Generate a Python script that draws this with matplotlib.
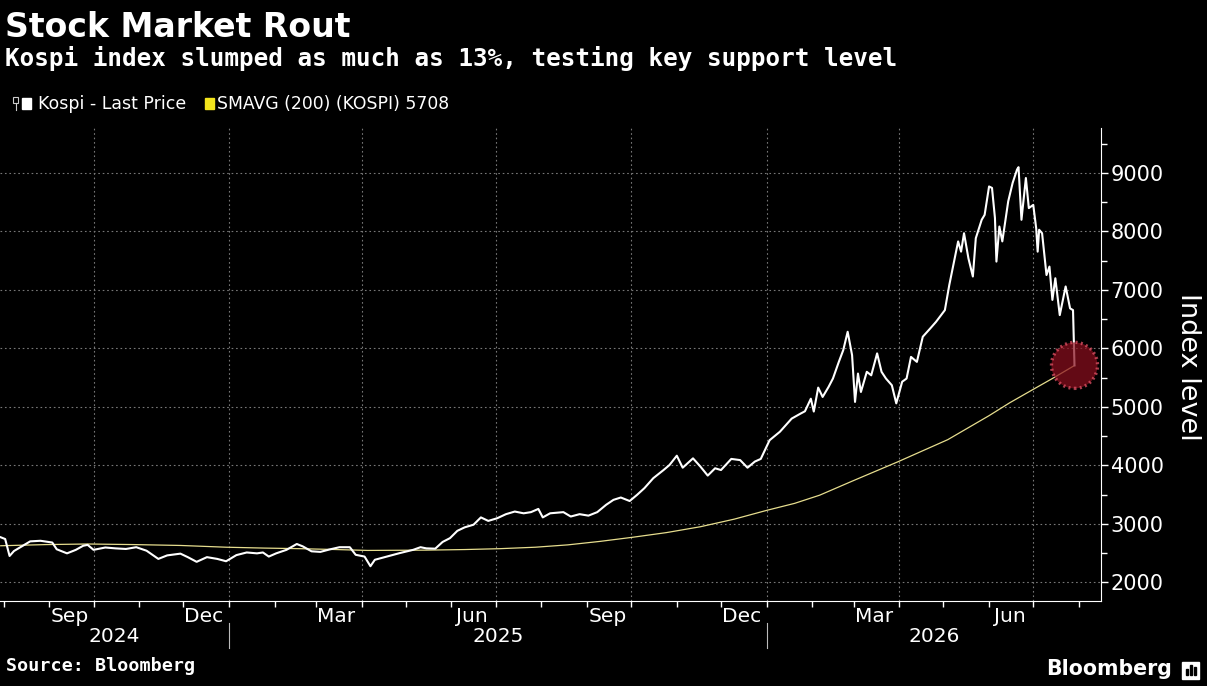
import matplotlib.pyplot as plt
import matplotlib.dates as mdates
from matplotlib.ticker import MultipleLocator
from matplotlib.patches import Rectangle
from matplotlib.lines import Line2D
import pandas as pd

# Kospi daily close
kospi_dates = [
    "2024-07-30", "2024-08-02", "2024-08-05", "2024-08-08", "2024-08-12", "2024-08-19",
    "2024-08-26", "2024-09-03", "2024-09-06", "2024-09-13", "2024-09-19", "2024-09-24",
    "2024-09-27", "2024-10-01", "2024-10-09", "2024-10-16", "2024-10-23", "2024-10-30",
    "2024-11-06", "2024-11-14", "2024-11-20", "2024-11-29", "2024-12-04", "2024-12-10",
    "2024-12-17", "2024-12-24", "2024-12-30", "2025-01-06", "2025-01-13", "2025-01-20",
    "2025-01-24", "2025-01-28", "2025-02-02", "2025-02-09", "2025-02-16", "2025-02-20",
    "2025-02-26", "2025-03-04", "2025-03-10", "2025-03-17", "2025-03-24", "2025-03-28",
    "2025-04-03", "2025-04-07", "2025-04-10", "2025-04-18", "2025-04-27", "2025-05-06",
    "2025-05-11", "2025-05-15", "2025-05-21", "2025-05-26", "2025-05-31", "2025-06-05",
    "2025-06-10", "2025-06-16", "2025-06-21", "2025-06-26", "2025-07-02", "2025-07-08",
    "2025-07-14", "2025-07-20", "2025-07-25", "2025-07-30", "2025-08-02", "2025-08-07",
    "2025-08-16", "2025-08-21", "2025-08-27", "2025-09-02", "2025-09-08", "2025-09-14",
    "2025-09-19", "2025-09-24", "2025-09-30", "2025-10-05", "2025-10-10", "2025-10-16",
    "2025-10-23", "2025-10-27", "2025-11-01", "2025-11-05", "2025-11-12", "2025-11-17",
    "2025-11-22", "2025-11-27", "2025-12-01", "2025-12-08", "2025-12-14", "2025-12-19",
    "2025-12-24", "2025-12-28", "2026-01-03", "2026-01-10", "2026-01-18", "2026-01-24",
    "2026-01-27", "2026-01-31", "2026-02-02", "2026-02-05", "2026-02-08", "2026-02-12",
    "2026-02-15", "2026-02-19", "2026-02-22", "2026-02-25", "2026-02-28", "2026-03-02",
    "2026-03-04", "2026-03-06", "2026-03-10", "2026-03-13", "2026-03-17", "2026-03-20",
    "2026-03-23", "2026-03-27", "2026-03-30", "2026-04-03", "2026-04-06", "2026-04-09",
    "2026-04-13", "2026-04-17", "2026-04-22", "2026-04-26", "2026-05-02", "2026-05-05",
    "2026-05-08", "2026-05-11", "2026-05-13", "2026-05-15", "2026-05-18", "2026-05-21",
    "2026-05-23", "2026-05-27", "2026-05-29", "2026-06-01", "2026-06-03", "2026-06-05",
    "2026-06-06", "2026-06-08", "2026-06-10", "2026-06-14", "2026-06-17", "2026-06-20",
    "2026-06-21", "2026-06-23", "2026-06-26", "2026-06-28", "2026-07-01", "2026-07-03",
    "2026-07-04", "2026-07-05", "2026-07-07", "2026-07-10", "2026-07-12", "2026-07-14",
    "2026-07-16", "2026-07-19", "2026-07-23", "2026-07-26", "2026-07-28", "2026-07-29",
]
kospi_values = [
    2770, 2740, 2450, 2535, 2595, 2700,
    2710, 2680, 2565, 2495, 2555, 2625,
    2640, 2555, 2595, 2580, 2570, 2600,
    2540, 2400, 2460, 2490, 2430, 2350,
    2430, 2400, 2360, 2465, 2510, 2495,
    2510, 2440, 2495, 2555, 2655, 2615,
    2530, 2520, 2560, 2600, 2600, 2470,
    2440, 2275, 2385, 2440, 2500, 2555,
    2600, 2580, 2575, 2690, 2755, 2880,
    2940, 2985, 3110, 3050, 3095, 3165,
    3210, 3180, 3200, 3255, 3110, 3180,
    3200, 3125, 3165, 3140, 3200, 3325,
    3410, 3450, 3390, 3495, 3610, 3780,
    3920, 4005, 4165, 3960, 4120, 3980,
    3825, 3950, 3920, 4110, 4090, 3960,
    4065, 4110, 4430, 4575, 4800, 4885,
    4925, 5140, 4920, 5330, 5170, 5340,
    5485, 5770, 5970, 6285, 5885, 5085,
    5570, 5255, 5600, 5540, 5915, 5600,
    5485, 5370, 5060, 5430, 5485, 5855,
    5770, 6200, 6340, 6455, 6655, 7085,
    7455, 7830, 7655, 7970, 7540, 7230,
    7885, 8200, 8285, 8770, 8745, 8230,
    7485, 8085, 7830, 8515, 8830, 9060,
    9100, 8200, 8915, 8400, 8455, 8055,
    7655, 8030, 7970, 7255, 7400, 6830,
    7200, 6570, 7060, 6685, 6655, 5710,
]

# 200-day simple moving average
sma_dates = [
    "2024-07-30", "2024-08-30", "2024-09-27", "2024-10-28", "2024-11-29", "2024-12-30",
    "2025-01-25", "2025-02-18", "2025-03-15", "2025-04-05", "2025-05-15", "2025-06-10",
    "2025-07-04", "2025-07-28", "2025-08-19", "2025-09-10", "2025-10-02", "2025-10-25",
    "2025-11-17", "2025-12-10", "2026-01-01", "2026-01-20", "2026-02-06", "2026-03-01",
    "2026-03-31", "2026-05-04", "2026-06-01", "2026-06-15", "2026-07-01", "2026-07-15",
    "2026-07-29",
]
sma_values = [
    2625, 2645, 2655, 2645, 2630, 2600,
    2585, 2575, 2560, 2545, 2550, 2560,
    2575, 2600, 2640, 2700, 2770, 2850,
    2950, 3080, 3230, 3350, 3490, 3740,
    4060, 4440, 4850, 5070, 5300, 5500,
    5708,
]

y_ticks = [2000, 3000, 4000, 5000, 6000, 7000, 8000, 9000]
years = [2024, 2025, 2026]

kospi_dates = pd.to_datetime(kospi_dates)
sma_dates = pd.to_datetime(sma_dates)

W, H = 1207, 686


def fx(x):
    return x / W


def fy(y):
    return 1 - y / H


fig = plt.figure(figsize=(W / 100, H / 100), dpi=100, facecolor="black")
ax = fig.add_axes([0.0, fy(601), fx(1101), fy(128) - fy(601)])
ax.set_facecolor("black")

ax.plot(kospi_dates, kospi_values, color="white", lw=1.5, zorder=3)
ax.plot(sma_dates, sma_values, color="#e6dd8e", lw=0.9, zorder=2)

# highlight the last print
ax.scatter([kospi_dates[-1]], [kospi_values[-1]], s=1100, color="#8a0f1e", alpha=0.72,
           edgecolors="#e8566a", linewidths=2.4, linestyle=(0, (0.6, 1.0)), zorder=4)

xmin, xmax = pd.Timestamp("2024-07-29 12:00"), pd.Timestamp("2026-08-16")
ax.set_xlim(xmin, xmax)
ax.set_ylim(1680, 9770)

for s in ["left", "top"]:
    ax.spines[s].set_visible(False)
ax.spines["bottom"].set_color("white")
ax.spines["right"].set_color("white")

ax.yaxis.tick_right()
ax.set_yticks(y_ticks)
ax.yaxis.set_minor_locator(MultipleLocator(500))
ax.tick_params(axis="y", which="major", colors="white", labelsize=15, length=5, width=1, pad=2)
ax.tick_params(axis="y", which="minor", colors="white", length=4, width=1)
ax.grid(axis="y", which="major", color="#777777", linestyle=(0, (1.5, 2.5)), lw=0.8)

ax.xaxis.set_major_locator(mdates.MonthLocator(bymonth=[3, 6, 9, 12], bymonthday=15))
ax.xaxis.set_major_formatter(mdates.DateFormatter("%b"))
ax.xaxis.set_minor_locator(mdates.MonthLocator(bymonthday=1))
ax.tick_params(axis="x", which="major", colors="white", labelsize=14.5, length=0, pad=4)
ax.tick_params(axis="x", which="minor", colors="white", length=4, width=1)

for q in pd.date_range("2024-10-01", "2026-07-01", freq="QS"):
    ax.axvline(q, color="#777777", linestyle=(0, (1.5, 2.5)), lw=0.8, zorder=1)

# year labels and separators under the axis
xt = ax.get_xaxis_transform()
for yr in years:
    start = max(pd.Timestamp(f"{yr}-01-01"), xmin)
    end = min(pd.Timestamp(f"{yr + 1}-01-01"), xmax)
    ax.text(start + (end - start) / 2, -0.076, str(yr), transform=xt, ha="center",
            va="center", color="white", fontsize=14.5)
    if start > xmin:
        ax.plot([start, start], [-0.046, -0.1], transform=xt, clip_on=False,
                color="#bbbbbb", lw=0.8)

fig.text(fx(1188), fy(367), "Index level", rotation=270, ha="center", va="center",
         color="white", fontsize=19.5)

# header
fig.text(fx(5), fy(37), "Stock Market Rout", color="white", fontsize=23.9,
         fontweight="bold", va="baseline", family="DejaVu Sans")
fig.text(fx(5), fy(66), "Kospi index slumped as much as 13%, testing key support level",
         color="white", fontsize=17.5, fontweight="bold", va="baseline",
         family="DejaVu Sans Mono")

# legend
fig.add_artist(Rectangle((fx(13), fy(103)), fx(5), fy(97) - fy(103), transform=fig.transFigure,
                         fill=False, edgecolor="#cccccc", lw=0.8))
fig.add_artist(Line2D([fx(15.5), fx(15.5)], [fy(103), fy(110)], transform=fig.transFigure,
                      color="#cccccc", lw=0.8))
fig.add_artist(Rectangle((fx(22), fy(109)), fx(9), fy(98) - fy(109), transform=fig.transFigure,
                         color="white"))
fig.text(fx(38), fy(104), "Kospi - Last Price", color="white", fontsize=12.5, va="center")
fig.add_artist(Rectangle((fx(205), fy(109)), fx(9), fy(98) - fy(109), transform=fig.transFigure,
                         color="#f2e41c"))
fig.text(fx(217), fy(104), "SMAVG (200) (KOSPI) 5708", color="white", fontsize=12.4,
         va="center")

# footer
fig.text(fx(6), fy(671), "Source: Bloomberg", color="white", fontsize=13.2, fontweight="bold",
         va="baseline", family="DejaVu Sans Mono")
fig.text(fx(1172), fy(675), "Bloomberg", color="white", fontsize=14.8, fontweight="bold",
         va="baseline", ha="right", family="DejaVu Sans")
fig.add_artist(Rectangle((fx(1182), fy(679)), fx(17), fy(662) - fy(679),
                         transform=fig.transFigure, color="white"))
for bx, bh in [(1186, 6), (1190, 10), (1194, 8)]:
    fig.add_artist(Rectangle((fx(bx), fy(675)), fx(2), fy(675 - bh) - fy(675),
                             transform=fig.transFigure, color="black"))

fig.savefig("out.png", dpi=100, facecolor="black")
